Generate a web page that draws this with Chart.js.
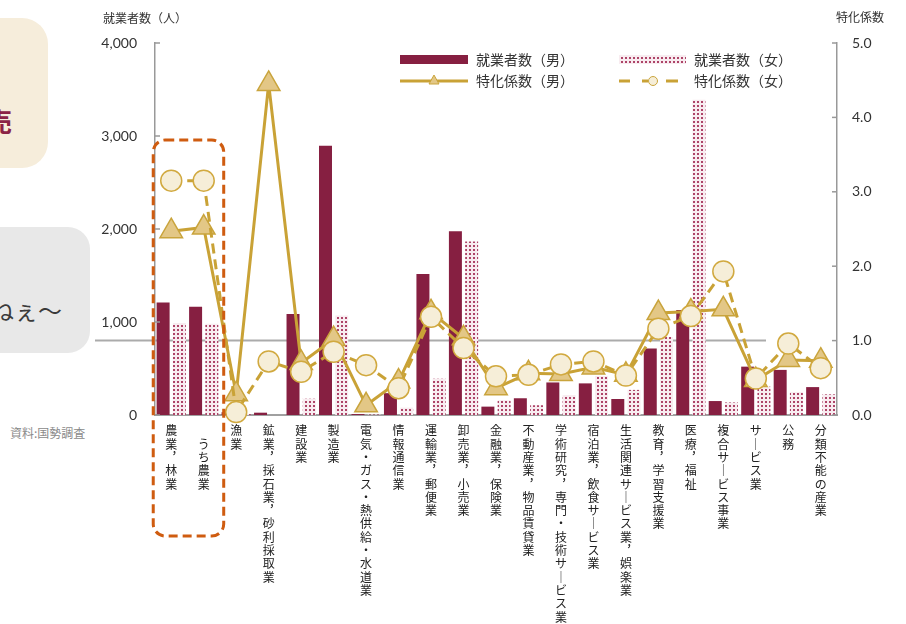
<!DOCTYPE html>
<html>
<head>
<meta charset="utf-8">
<script src="https://cdn.jsdelivr.net/npm/chart.js@4.4.1/dist/chart.umd.min.js"></script>
<style>
  body { margin: 0; background: #fff; }
  #wrap { position: relative; width: 906px; height: 624px; overflow: hidden; font-family: 'Noto Sans CJK JP', sans-serif; }
  .box1 { position: absolute; left: -30px; top: 18px; width: 78px; height: 150px; border-radius: 26px; background: #f6eddb; }
  .box1 span { position: absolute; left: 16px; top: 84px; font-size: 26px; font-weight: bold; color: #8b2346; }
  .box2 { position: absolute; left: -30px; top: 227px; width: 120px; height: 126px; border-radius: 22px; background: #e8e8e8; }
  .box2 span { position: absolute; left: 20px; top: 65px; font-size: 24px; color: #3a3a3a; }
  .src { position: absolute; left: 10px; top: 424px; font-size: 12px; color: #8a8a8a; }
  #c { position: absolute; left: 0; top: 0; }
</style>
</head>
<body>
<div id="wrap">
  <div class="box1"><span>売</span></div>
  <div class="box2"><span>ねぇ～</span></div>
  <div class="src">資料:国勢調査</div>
  <canvas id="c" width="906" height="624"></canvas>
</div>
<script>
// 産業分類
var categories = ['農業，林業', '　うち農業', '漁業', '鉱業，採石業，砂利採取業', '建設業', '製造業',
  '電気・ガス・熱供給・水道業', '情報通信業', '運輸業，郵便業', '卸売業，小売業', '金融業，保険業',
  '不動産業，物品賃貸業', '学術研究，専門・技術サービス業', '宿泊業，飲食サービス業',
  '生活関連サービス業，娯楽業', '教育，学習支援業', '医療，福祉', '複合サービス事業', 'サービス業', '公務', '分類不能の産業'];

// 就業者数（人）
var menCount   = [1210, 1165, 30, 25, 1085, 2895, 10, 235, 1515, 1975, 90, 180, 350, 340, 172, 715, 1130, 150, 520, 485, 300];
var womenCount = [990, 980, 10, 0, 175, 1070, 5, 80, 390, 1865, 160, 105, 215, 420, 270, 840, 3390, 135, 305, 248, 222];

// 特化係数
var menCoef   = [2.47, 2.52, 0.28, 4.45, 0.70, 1.02, 0.13, 0.45, 1.38, 1.03, 0.36, 0.56, 0.55, 0.64, 0.54, 1.37, 1.39, 1.42, 0.47, 0.74, 0.73];
var womenCoef = [3.15, 3.15, 0.04, 0.72, 0.58, 0.85, 0.67, 0.36, 1.32, 0.90, 0.52, 0.54, 0.68, 0.72, 0.53, 1.16, 1.33, 1.93, 0.49, 0.96, 0.63];

var countTicks = [0, 1000, 2000, 3000, 4000];
var coefTicks = [0, 1, 2, 3, 4, 5];

var MAROON = '#861f41';
var GOLD = '#c9a236';
var jp = "'Noto Sans CJK JP', sans-serif";

// 縦書きラベル
function vertical(s) {
  return s.split('').map(function (ch) {
    if (ch === '，') return '︐';
    if (ch === 'ー') return '｜';
    return ch;
  });
}

function dotPattern() {
  var t = document.createElement('canvas');
  t.width = 4; t.height = 4;
  var g = t.getContext('2d');
  g.fillStyle = '#f8ecf0';
  g.fillRect(0, 0, 4, 4);
  g.fillStyle = '#ad4468';
  g.fillRect(1, 1, 2, 2);
  return document.getElementById('c').getContext('2d').createPattern(t, 'repeat');
}
var dots = dotPattern();

var decor = {
  id: 'decor',
  beforeDatasetsDraw: function (chart) {
    var ctx = chart.ctx;
    var y = chart.scales.y1.getPixelForValue(1);
    ctx.save();
    ctx.strokeStyle = '#ababab';
    ctx.lineWidth = 2;
    ctx.beginPath();
    ctx.moveTo(95, y);
    ctx.lineTo(766, y);
    ctx.stroke();
    ctx.restore();
  },
  afterDraw: function (chart) {
    var ctx = chart.ctx;
    var a = chart.chartArea;
    var sy = chart.scales.y, sy1 = chart.scales.y1, sx = chart.scales.x;
    ctx.save();
    // 内向き目盛
    ctx.strokeStyle = '#999';
    ctx.lineWidth = 1.5;
    countTicks.forEach(function (v) {
      var p = sy.getPixelForValue(v);
      ctx.beginPath(); ctx.moveTo(a.left, p); ctx.lineTo(a.left + 5, p); ctx.stroke();
    });
    coefTicks.forEach(function (v) {
      var p = sy1.getPixelForValue(v);
      ctx.beginPath(); ctx.moveTo(a.right - 5, p); ctx.lineTo(a.right, p); ctx.stroke();
    });

    // 軸タイトル
    ctx.fillStyle = '#333';
    ctx.font = '12px ' + jp;
    ctx.textBaseline = 'middle';
    ctx.textAlign = 'left';
    ctx.fillText('就業者数（人）', 103, 18);
    ctx.fillText('特化係数', 836, 17);

    // 凡例
    ctx.fillStyle = MAROON;
    ctx.fillRect(400, 55, 68, 9);
    ctx.fillStyle = dots;
    ctx.fillRect(619, 55, 67, 9);
    ctx.strokeStyle = GOLD;
    ctx.lineWidth = 3;
    ctx.beginPath(); ctx.moveTo(400, 81); ctx.lineTo(468, 81); ctx.stroke();
    ctx.beginPath();
    ctx.moveTo(619, 81); ctx.lineTo(630, 81);
    ctx.moveTo(642, 81); ctx.lineTo(648, 81);
    ctx.moveTo(666, 81); ctx.lineTo(678, 81);
    ctx.stroke();
    ctx.fillStyle = '#e3c786';
    ctx.strokeStyle = '#c9a43c';
    ctx.lineWidth = 1;
    ctx.beginPath();
    ctx.moveTo(434, 75); ctx.lineTo(439, 84); ctx.lineTo(429, 84); ctx.closePath();
    ctx.fill(); ctx.stroke();
    ctx.fillStyle = '#f6eed8';
    ctx.beginPath(); ctx.arc(653, 81, 4.5, 0, Math.PI * 2); ctx.fill(); ctx.stroke();

    ctx.fillStyle = '#333';
    ctx.font = '14px ' + jp;
    ctx.fillText('就業者数（男）', 476, 60);
    ctx.fillText('特化係数（男）', 476, 81);
    ctx.fillText('就業者数（女）', 694, 60);
    ctx.fillText('特化係数（女）', 694, 81);

    // 農業の囲み
    var x0 = sx.getPixelForValue(0) - 18;
    var x1 = sx.getPixelForValue(1) + 20;
    ctx.strokeStyle = '#cf5c10';
    ctx.lineWidth = 3;
    ctx.setLineDash([9, 5]);
    ctx.beginPath();
    ctx.roundRect(x0, 140, x1 - x0, 396, 12);
    ctx.stroke();
    ctx.restore();
  }
};

new Chart(document.getElementById('c'), {
  data: {
    labels: categories.map(vertical),
    datasets: [
      {
        type: 'line', label: '特化係数（女）', data: womenCoef, yAxisID: 'y1', order: 0,
        borderColor: GOLD, borderWidth: 3, borderDash: [10, 6], tension: 0, clip: false,
        pointStyle: 'circle', pointRadius: 10.5, pointBackgroundColor: '#f6eed8',
        pointBorderColor: '#d1a93f', pointBorderWidth: 1.5
      },
      {
        type: 'line', label: '特化係数（男）', data: menCoef, yAxisID: 'y1', order: 1,
        borderColor: GOLD, borderWidth: 3, tension: 0, clip: false,
        pointStyle: 'triangle', pointRadius: 13, pointBackgroundColor: '#e3c786',
        pointBorderColor: '#c9a43c', pointBorderWidth: 1.5
      },
      {
        type: 'bar', label: '就業者数（男）', data: menCount, yAxisID: 'y', order: 2,
        backgroundColor: MAROON, barPercentage: 0.8, categoryPercentage: 1.0
      },
      {
        type: 'bar', label: '就業者数（女）', data: womenCount, yAxisID: 'y', order: 3,
        backgroundColor: dots, barPercentage: 0.8, categoryPercentage: 1.0
      }
    ]
  },
  options: {
    responsive: false,
    animation: false,
    layout: { padding: { top: 43, left: 0, right: 0, bottom: 0 } },
    plugins: { legend: { display: false }, tooltip: { enabled: false } },
    scales: {
      x: {
        grid: { display: false, drawTicks: false },
        border: { color: '#a0a0a0', width: 2 },
        ticks: {
          autoSkip: false, maxRotation: 0, minRotation: 0, padding: 9, color: '#222',
          font: { family: jp, size: 12, lineHeight: 1.11 }
        },
        afterFit: function (s) { s.height = 209; }
      },
      y: {
        position: 'left', min: 0, max: 4000,
        grid: { display: false, drawTicks: false },
        border: { color: '#999', width: 1.5 },
        ticks: {
          stepSize: 1000, padding: 18, color: '#333',
          font: { family: 'Lato', size: 14 },
          callback: function (v) { return v.toLocaleString('en-US'); }
        },
        afterFit: function (s) { s.width = 155; }
      },
      y1: {
        position: 'right', min: 0, max: 5,
        grid: { display: false, drawTicks: false },
        border: { color: '#999', width: 1.5 },
        ticks: {
          stepSize: 1, padding: 15, color: '#333',
          font: { family: 'Lato', size: 14 },
          callback: function (v) { return v.toFixed(1); }
        },
        afterFit: function (s) { s.width = 69; }
      }
    }
  },
  plugins: [decor]
});
</script>
</body>
</html>
